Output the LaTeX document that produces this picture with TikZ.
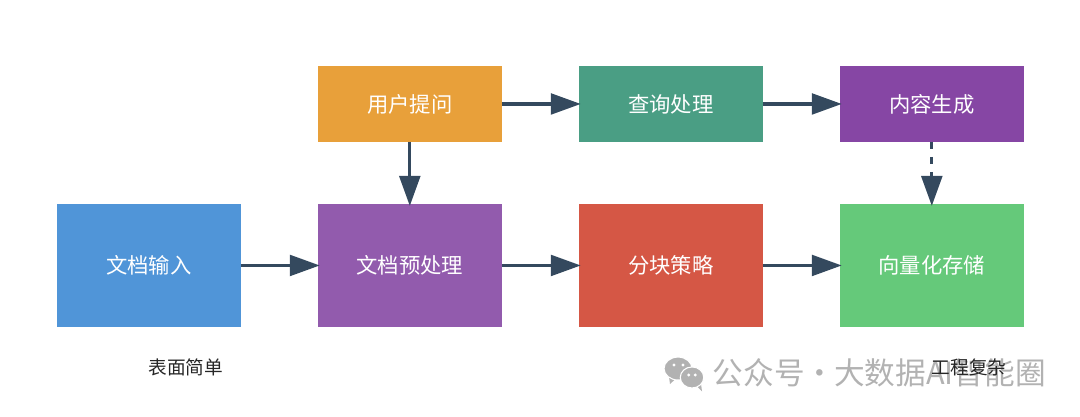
\documentclass[tikz,border=0pt]{standalone}
\usepackage{fontspec}
\setmainfont{Noto Sans CJK SC}
\usetikzlibrary{positioning,arrows.meta}
\definecolor{inputColor}{RGB}{80,149,216}
\definecolor{askColor}{RGB}{232,160,58}
\definecolor{queryColor}{RGB}{74,158,132}
\definecolor{genColor}{RGB}{134,70,164}
\definecolor{prepColor}{RGB}{146,91,173}
\definecolor{chunkColor}{RGB}{213,87,69}
\definecolor{storeColor}{RGB}{101,201,122}
\definecolor{edgeColor}{RGB}{52,73,94}
\definecolor{markColor}{RGB}{178,178,178}

\begin{document}
\begin{tikzpicture}[x=1pt,y=1pt]
    \tikzstyle{bigbox} = [rectangle,text=white,font=\fontsize{16pt}{18pt}\selectfont,inner sep=0pt,outer sep=0pt,minimum width=138pt,minimum height=92.25pt]
    \tikzstyle{smallbox} = [bigbox,minimum height=57pt]
    \tikzstyle{caption} = [inner sep=0pt,text=black!85,font=\fontsize{14pt}{16pt}\selectfont]
    \tikzstyle{flow} = [draw=edgeColor,line width=2.5pt,shorten >=-1.5pt,-{Triangle[length=22.5pt,width=15.5pt]}]
    \tikzstyle{bubble} = [fill=markColor,draw=white,line width=0.8pt]
    \tikzstyle{eye} = [fill=white,circle,inner sep=0pt,minimum size=2.4pt]
    \useasboundingbox (0,0) rectangle (810,-312.75);

    \node [bigbox, fill=inputColor] (input) at (111.6,-199.1) {文档输入};
    \node [bigbox, fill=prepColor, right=57.75pt of input] (prep) {文档预处理};
    \node [bigbox, fill=chunkColor, right=57.75pt of prep] (chunk) {分块策略};
    \node [bigbox, fill=storeColor, right=57.75pt of chunk] (store) {向量化存储};

    \node [smallbox, fill=askColor, above=46.5pt of prep] (ask) {用户提问};
    \node [smallbox, fill=queryColor, above=46.5pt of chunk] (query) {查询处理};
    \node [smallbox, fill=genColor, above=46.5pt of store] (gen) {内容生成};

    \draw [flow] (input) -- (prep);
    \draw [flow] (prep) -- (chunk);
    \draw [flow] (chunk) -- (store);
    \draw [flow] (ask) -- (query);
    \draw [flow] (query) -- (gen);
    \draw [flow] (ask) -- (prep);
    \draw [flow,dash pattern=on 5.6pt off 5.6pt] (gen) -- (store);

    % watermark
    \node [inner sep=0pt,text=markColor,anchor=west,font=\fontsize{23pt}{26pt}\selectfont] (mark) at (534.5,-279.5) {公众号\makebox[22pt][c]{·}大数据AI智能圈};
    \fill [markColor] (501.5,-281) -- (502.5,-288) -- (508,-283) -- cycle;
    \draw [bubble] (508.5,-276.4) ellipse (10.5pt and 8.6pt);
    \fill [markColor] (521,-288) -- (526.5,-293.5) -- (525.5,-286) -- cycle;
    \draw [bubble] (519,-283.1) ellipse (8.8pt and 7.9pt);
    \node [eye] (eyea) at (505.5,-273.75) {};
    \node [eye] (eyeb) at (512.25,-273.75) {};
    \node [eye] (eyec) at (516.5,-281.25) {};
    \node [eye] (eyed) at (521.5,-281.25) {};

    \node [caption] (simple) at (139.3,-275.25) {表面简单};
    \node [caption] (hard) at (726.9,-275.25) {工程复杂};
\end{tikzpicture}
\end{document}
